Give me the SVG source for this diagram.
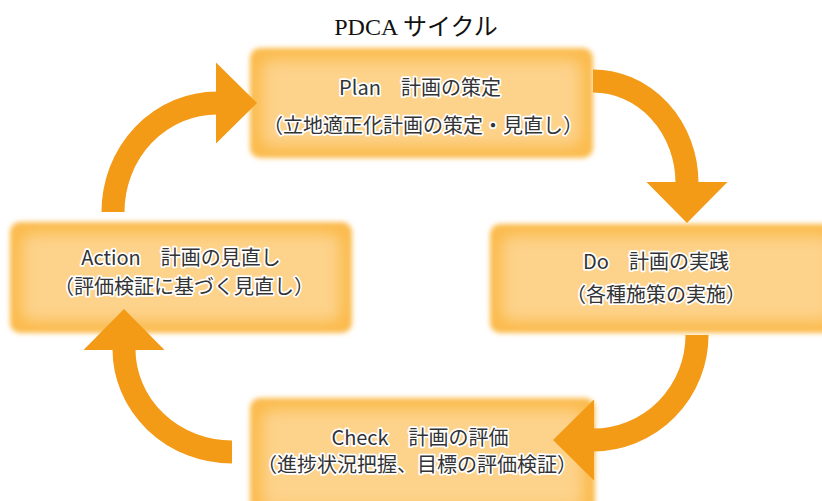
<svg xmlns="http://www.w3.org/2000/svg" width="822" height="501" viewBox="0 0 822 501">
<style>
.box{fill:#FBBB4E;}
.inner{fill:#FDD28A;}
.lbl{font-family:"Noto Sans CJK JP","Noto Sans",sans-serif;font-size:20px;fill:#333333;stroke:#ffffff;stroke-width:3.5px;paint-order:stroke;stroke-linejoin:round;text-anchor:middle;}
.title{font-family:"Liberation Serif","Noto Sans CJK JP",serif;font-size:24px;fill:#111;text-anchor:middle;}
.arrow{fill:none;stroke:#F39A17;stroke-width:23;marker-end:url(#head);}
</style>
<defs>
<filter id="soft" x="-10%" y="-20%" width="120%" height="140%"><feGaussianBlur stdDeviation="2.5"/></filter>
<filter id="softer" x="-20%" y="-40%" width="140%" height="180%"><feGaussianBlur stdDeviation="7"/></filter>
<marker id="head" markerUnits="userSpaceOnUse" markerWidth="41" markerHeight="81" viewBox="0 0 41 81" refX="1" refY="40.5" orient="auto">
<path d="M0,0 L41,40.5 L0,81 Z" fill="#F39A17"/>
</marker>
</defs>
<rect width="822" height="501" fill="#ffffff"/>
<text class="title" x="416" y="35">PDCA サイクル</text>

<g id="plan">
<rect class="box" x="250" y="48" width="343" height="110" rx="10" filter="url(#soft)"/>
<rect class="inner" x="262" y="60" width="319" height="86" rx="10" filter="url(#softer)"/>
<text class="lbl" x="420" y="95">Plan　計画の策定</text>
<text class="lbl" x="423" y="133">（立地適正化計画の策定・見直し）</text>
</g>

<g id="action">
<rect class="box" x="10" y="222" width="342" height="111" rx="10" filter="url(#soft)"/>
<rect class="inner" x="22" y="234" width="318" height="87" rx="10" filter="url(#softer)"/>
<text class="lbl" x="181" y="265">Action　計画の見直し</text>
<text class="lbl" x="184" y="294">（評価検証に基づく見直し）</text>
</g>

<g id="do">
<rect class="box" x="490" y="224" width="345" height="109" rx="10" filter="url(#soft)"/>
<rect class="inner" x="502" y="236" width="330" height="85" rx="10" filter="url(#softer)"/>
<text class="lbl" x="656" y="269">Do　計画の実践</text>
<text class="lbl" x="656" y="302">（各種施策の実施）</text>
</g>

<g id="check">
<rect class="box" x="250" y="398" width="345" height="115" rx="10" filter="url(#soft)"/>
<rect class="inner" x="262" y="410" width="321" height="98" rx="10" filter="url(#softer)"/>
<text class="lbl" x="420" y="445">Check　計画の評価</text>
<text class="lbl" x="417" y="472">（進捗状況把握、目標の評価検証）</text>
</g>

<g id="connectors">
<path class="arrow" d="M113,212 A104,109 0 0 1 217,103"/>
<path class="arrow" d="M593,81 A94,102 0 0 1 687,183"/>
<path class="arrow" d="M697,335 A104,105 0 0 1 593,440"/>
<path class="arrow" d="M232,452 A108,103 0 0 1 124,349"/>
</g>
</svg>
